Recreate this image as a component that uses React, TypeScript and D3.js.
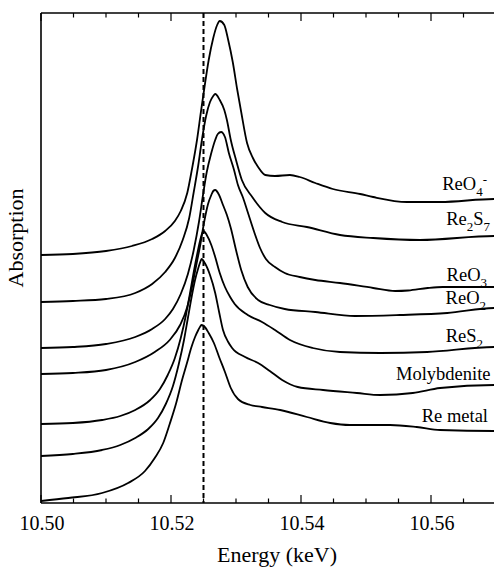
import React from "react";
import * as d3 from "d3";

// ---- Data (energy in keV, normalized absorption with vertical offsets) ----
const seriesNames = ["ReO_4^-", "Re_2S_7", "ReO_3", "ReO_2", "ReS_2", "Molybdenite", "Re metal"];

const reo4: [number, number][] = [
  [10.5, 2.48], [10.5049, 2.49], [10.51, 2.52], [10.514, 2.57], [10.5171, 2.64], [10.5191, 2.72],
  [10.5206, 2.82], [10.5215, 2.92], [10.5225, 3.1], [10.5232, 3.33], [10.524, 3.63], [10.5246, 3.91],
  [10.5252, 4.18], [10.5258, 4.43], [10.5265, 4.65], [10.5271, 4.78], [10.5275, 4.82], [10.5282, 4.78],
  [10.5288, 4.63], [10.5295, 4.41], [10.5302, 4.13], [10.5308, 3.91], [10.5317, 3.6], [10.5326, 3.45],
  [10.5334, 3.36], [10.5345, 3.28], [10.536, 3.27], [10.5383, 3.28], [10.5398, 3.26], [10.5422, 3.2],
  [10.5449, 3.14], [10.5491, 3.09], [10.5511, 3.06], [10.5563, 3.01], [10.5614, 3.01], [10.5697, 3.04],
  [10.57, 3.04],
];

const re2s7: [number, number][] = [
  [10.5, 2.01], [10.5049, 2.02], [10.51, 2.04], [10.5145, 2.1], [10.5171, 2.19], [10.5191, 2.31],
  [10.5206, 2.45], [10.5218, 2.63], [10.5228, 2.85], [10.5235, 3.11], [10.5242, 3.38], [10.5248, 3.65],
  [10.5254, 3.87], [10.526, 4.01], [10.5265, 4.07], [10.5268, 4.09], [10.5275, 4.03], [10.5282, 3.93],
  [10.5286, 3.83], [10.5292, 3.63], [10.53, 3.43], [10.5309, 3.23], [10.5325, 3.06], [10.5345, 2.9],
  [10.5371, 2.81], [10.5409, 2.76], [10.546, 2.68], [10.5511, 2.65], [10.5583, 2.63], [10.5697, 2.67],
  [10.57, 2.67],
];

const reo3: [number, number][] = [
  [10.5, 1.55], [10.5049, 1.56], [10.51, 1.59], [10.5145, 1.66], [10.5171, 1.74], [10.5191, 1.84],
  [10.5203, 1.94], [10.5215, 2.09], [10.5226, 2.29], [10.5235, 2.53], [10.5243, 2.81], [10.5249, 3.07],
  [10.5255, 3.31], [10.5262, 3.5], [10.5268, 3.63], [10.5272, 3.69], [10.5277, 3.71], [10.5283, 3.66],
  [10.5289, 3.5], [10.5297, 3.33], [10.5303, 3.18], [10.5311, 3.05], [10.5318, 2.91], [10.5328, 2.71],
  [10.5337, 2.55], [10.5346, 2.44], [10.536, 2.36], [10.5375, 2.3], [10.5398, 2.26], [10.5422, 2.23],
  [10.546, 2.2], [10.5511, 2.15], [10.5545, 2.12], [10.5565, 2.125], [10.5595, 2.15], [10.5618, 2.16],
  [10.5697, 2.16], [10.57, 2.16],
];

const reo2: [number, number][] = [
  [10.5, 1.29], [10.5049, 1.3], [10.51, 1.33], [10.5145, 1.41], [10.5175, 1.51], [10.5198, 1.63],
  [10.5214, 1.78], [10.5225, 1.96], [10.5232, 2.15], [10.5238, 2.35], [10.5245, 2.58], [10.5251, 2.81],
  [10.5257, 2.99], [10.5262, 3.08], [10.5265, 3.12], [10.5268, 3.13], [10.5274, 3.08], [10.528, 2.98],
  [10.5286, 2.88], [10.5292, 2.75], [10.53, 2.53], [10.5308, 2.33], [10.5318, 2.16], [10.5334, 2.03],
  [10.5352, 1.98], [10.5375, 1.94], [10.5422, 1.91], [10.5483, 1.87], [10.5552, 1.88], [10.5625, 1.9],
  [10.5697, 1.95], [10.57, 1.95],
];

const res2: [number, number][] = [
  [10.5, 0.79], [10.5049, 0.8], [10.5094, 0.83], [10.5122, 0.87], [10.5145, 0.93], [10.5168, 1.03],
  [10.5183, 1.14], [10.5195, 1.28], [10.5206, 1.45], [10.5215, 1.65], [10.5223, 1.88], [10.5229, 2.09],
  [10.5235, 2.31], [10.524, 2.48], [10.5245, 2.63], [10.5248, 2.7], [10.525, 2.72], [10.5255, 2.68],
  [10.5262, 2.58], [10.5268, 2.46], [10.5275, 2.3], [10.5283, 2.16], [10.5291, 2.06], [10.5298, 1.99],
  [10.5318, 1.88], [10.534, 1.81], [10.536, 1.73], [10.5383, 1.63], [10.5418, 1.55], [10.546, 1.51],
  [10.5522, 1.5], [10.5594, 1.51], [10.5697, 1.56], [10.57, 1.56],
];

const molybdenite: [number, number][] = [
  [10.5, 0.47], [10.5049, 0.49], [10.5094, 0.53], [10.5122, 0.58], [10.5145, 0.65], [10.5165, 0.74],
  [10.518, 0.85], [10.5192, 0.99], [10.5203, 1.17], [10.5212, 1.39], [10.522, 1.63], [10.5226, 1.85],
  [10.5232, 2.07], [10.5237, 2.23], [10.5242, 2.35], [10.5245, 2.41], [10.5247, 2.44], [10.5252, 2.4],
  [10.526, 2.28], [10.5268, 2.1], [10.5274, 1.91], [10.528, 1.73], [10.5288, 1.61], [10.5294, 1.55],
  [10.5314, 1.46], [10.5334, 1.4], [10.5352, 1.32], [10.5371, 1.23], [10.5395, 1.16], [10.5434, 1.13],
  [10.5486, 1.1], [10.5522, 1.08], [10.5572, 1.1], [10.5614, 1.15], [10.5697, 1.18], [10.57, 1.18],
];

const reMetal: [number, number][] = [
  [10.5, 0.02], [10.5042, 0.05], [10.5094, 0.1], [10.5134, 0.2], [10.516, 0.32], [10.5175, 0.45],
  [10.5188, 0.6], [10.5198, 0.79], [10.5208, 1.0], [10.5217, 1.23], [10.5225, 1.41], [10.5231, 1.55],
  [10.5237, 1.66], [10.5242, 1.73], [10.5245, 1.765], [10.5247, 1.78], [10.5252, 1.76], [10.5258, 1.7],
  [10.5266, 1.6], [10.5274, 1.46], [10.5283, 1.31], [10.5292, 1.15], [10.5303, 1.04], [10.5322, 0.98],
  [10.534, 0.96], [10.5368, 0.93], [10.5409, 0.86], [10.5445, 0.8], [10.5475, 0.78], [10.5537, 0.78],
  [10.5578, 0.76], [10.5614, 0.73], [10.5697, 0.72], [10.57, 0.72],
];

const seriesData = [reo4, re2s7, reo3, reo2, res2, molybdenite, reMetal];

const majorTicks = [10.5, 10.52, 10.54, 10.56];
const majorTickLabels = ["10.50", "10.52", "10.54", "10.56"];
const minorTicks = [10.505, 10.51, 10.515, 10.525, 10.53, 10.535, 10.545, 10.55, 10.555, 10.565];
const referenceEnergy = 10.525;
const xTitle = "Energy (keV)";
const yTitle = "Absorption";

// ---- Layout ----
const W = 494;
const H = 568;
const M = { left: 41, right: 496, top: 13, bottom: 503 };
const labelDy = [-9, -11, -6, -4, -5, -5, -9.5];
const labelEndX = [487, 490, 487, 486, 483, 490.5, 488];
const FONT = '"Liberation Serif", "DejaVu Serif", serif';

type Tok = { text: string; kind: "n" | "sub" | "sup" };
function parseLabel(s: string): Tok[] {
  const out: Tok[] = [];
  let i = 0;
  let buf = "";
  while (i < s.length) {
    const c = s[i];
    if (c === "_" || c === "^") {
      if (buf) { out.push({ text: buf, kind: "n" }); buf = ""; }
      out.push({ text: s[i + 1], kind: c === "_" ? "sub" : "sup" });
      i += 2;
    } else {
      buf += c;
      i++;
    }
  }
  if (buf) out.push({ text: buf, kind: "n" });
  return out;
}

const textStyle = { fontFamily: FONT } as React.CSSProperties;

function Label({ s, x, y }: { s: string; x: number; y: number }) {
  const toks = parseLabel(s);
  let cur = 0;
  return (
    <text x={x} y={y} textAnchor="end" style={textStyle} fontSize={18.5} fill="#000">
      {toks.map((t, i) => {
        const shift = t.kind === "sub" ? 6 : t.kind === "sup" ? -6 : 0;
        const dy = shift - cur;
        cur = shift;
        return (
          <tspan key={i} dy={dy} fontSize={t.kind === "n" ? 18.5 : 13}>
            {t.text}
          </tspan>
        );
      })}
    </text>
  );
}

export default function App() {
  const x = d3.scaleLinear().domain([10.5, 10.57]).range([M.left, M.right]);
  const y = d3.scaleLinear().domain([0, 4.9]).range([M.bottom, M.top]);
  const line = d3
    .line<[number, number]>()
    .x((d) => x(d[0]))
    .y((d) => y(d[1]))
    .curve(d3.curveMonotoneX);

  return (
    <svg
      width={W}
      height={H}
      style={{ position: "absolute", left: 0, top: 0, display: "block", background: "#fff" }}
    >
      <defs>
        <clipPath id="plotClip">
          <rect x={M.left} y={M.top} width={M.right - M.left} height={M.bottom - M.top} />
        </clipPath>
      </defs>
      <rect x={0} y={0} width={W} height={H} fill="#fff" />

      {/* reference dashed line */}
      <line
        x1={x(referenceEnergy)}
        x2={x(referenceEnergy)}
        y1={M.top}
        y2={M.bottom}
        stroke="#000"
        strokeWidth={2}
        strokeDasharray="5,3"
      />

      {/* curves */}
      <g clipPath="url(#plotClip)">
        {seriesData.map((d, i) => (
          <path key={i} d={line(d) || ""} fill="none" stroke="#000" strokeWidth={1.8} strokeLinejoin="round" />
        ))}
      </g>

      {/* axes frame */}
      <line x1={M.left} x2={M.left} y1={M.top} y2={M.bottom} stroke="#000" strokeWidth={1.6} />
      <line x1={M.left} x2={M.right} y1={M.bottom} y2={M.bottom} stroke="#000" strokeWidth={1.6} />
      <line x1={M.left} x2={M.right} y1={M.top} y2={M.top} stroke="#000" strokeWidth={1.6} />
      <line x1={M.right} x2={M.right} y1={M.top} y2={M.bottom} stroke="#000" strokeWidth={1.6} />

      {/* ticks */}
      {majorTicks.map((t) => (
        <g key={"M" + t}>
          <line x1={x(t)} x2={x(t)} y1={M.bottom} y2={M.bottom - 8} stroke="#000" strokeWidth={1.2} />
          <line x1={x(t)} x2={x(t)} y1={M.top} y2={M.top + 8} stroke="#000" strokeWidth={1.2} />
        </g>
      ))}
      {minorTicks.map((t) => (
        <g key={"m" + t}>
          <line x1={x(t)} x2={x(t)} y1={M.bottom} y2={M.bottom - 4.5} stroke="#000" strokeWidth={1.2} />
          <line x1={x(t)} x2={x(t)} y1={M.top} y2={M.top + 4.5} stroke="#000" strokeWidth={1.2} />
        </g>
      ))}
      {majorTicks.map((t, i) => (
        <text key={"L" + t} x={x(t) + 1} y={530} textAnchor="middle" style={textStyle} fontSize={20} fill="#000">
          {majorTickLabels[i]}
        </text>
      ))}

      {/* titles */}
      <text x={277} y={562} textAnchor="middle" style={textStyle} fontSize={22} fill="#000">
        {xTitle}
      </text>
      <text
        transform={`translate(23, 238) rotate(-90)`}
        textAnchor="middle"
        style={textStyle}
        fontSize={22}
        fill="#000"
      >
        {yTitle}
      </text>

      {/* series labels */}
      {seriesNames.map((s, i) => {
        const d = seriesData[i];
        const last = d[d.length - 1];
        return <Label key={s} s={s} x={labelEndX[i]} y={y(last[1]) + labelDy[i]} />;
      })}
    </svg>
  );
}
